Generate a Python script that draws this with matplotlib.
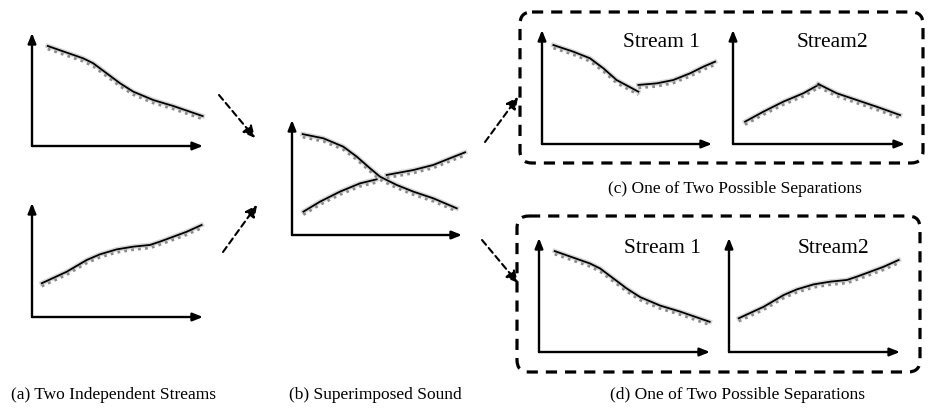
import matplotlib
matplotlib.use("Agg")
import matplotlib.pyplot as plt
from matplotlib import transforms
from matplotlib.patches import FancyBboxPatch

# falling stream (panel a top, panel d stream 1)
fall_x = [0.92, 2.99, 3.58, 4.37, 5.15, 5.92, 7.09, 8.26, 9.98]
fall_y = [8.85, 7.76, 7.32, 6.43, 5.55, 4.81, 4.07, 3.54, 2.65]

# rising stream (panel a bottom, panel d stream 2)
rise_x = [0.57, 2.03, 3.20, 3.98, 4.95, 5.92, 6.90, 7.48, 8.26, 9.05, 9.92]
rise_y = [2.96, 3.97, 5.00, 5.50, 5.93, 6.17, 6.32, 6.61, 7.04, 7.48, 8.07]

# superimposed sound (panel b)
mix_fall_x = [0.63, 1.84, 3.02, 3.81, 4.59, 5.18, 6.16, 7.14, 8.31, 9.69]
mix_fall_y = [8.77, 8.41, 7.68, 6.81, 5.80, 5.07, 4.35, 3.77, 3.19, 2.32]
mix_rise1_x = [0.67, 1.65, 2.82, 4.00, 4.98]
mix_rise1_y = [2.03, 2.90, 3.77, 4.49, 4.84]
mix_rise2_x = [5.57, 7.14, 8.31, 9.29, 10.18]
mix_rise2_y = [5.22, 5.65, 6.09, 6.67, 7.19]

# wrong separation (panel c)
c1_a_x = [0.67, 1.84, 2.82, 3.61, 4.39, 5.67]
c1_a_y = [8.68, 8.10, 7.52, 6.64, 5.61, 4.59]
c1_b_x = [5.67, 6.75, 7.72, 8.71, 9.49, 10.18]
c1_b_y = [5.18, 5.32, 5.61, 6.20, 6.78, 7.22]
c2_a_x = [0.70, 1.76, 2.92, 4.09, 4.96]
c2_a_y = [1.96, 2.83, 3.71, 4.45, 5.18]
c2_b_x = [4.96, 6.03, 7.19, 8.35, 9.71]
c2_b_y = [5.26, 4.45, 3.86, 3.27, 2.54]

captions = ["(a) Two Independent Streams", "(b) Superimposed Sound",
            "(c) One of Two Possible Separations", "(d) One of Two Possible Separations"]
stream_names = ["Stream 1", "Stream2"]

W, H = 930, 412
fig = plt.figure(figsize=(W / 100, H / 100), dpi=100)
serif = "Liberation Serif"


def panel(left, top, right, bottom):
    ax = fig.add_axes([left / W, 1 - bottom / H, (right - left) / W, (bottom - top) / H])
    ax.set_xlim(0, 10)
    ax.set_ylim(0, 10)
    ax.axis("off")
    for end in [(1, 0), (0, 1)]:
        ax.annotate("", xy=end, xytext=(0, 0), xycoords="axes fraction",
                    arrowprops=dict(arrowstyle="-|>,head_length=0.6,head_width=0.24",
                                    color="black", lw=1.7, shrinkA=0, shrinkB=0))
    return ax


def stream(ax, xs, ys):
    shadow = transforms.offset_copy(ax.transData, fig=fig, x=0, y=-3, units="dots")
    ax.plot(xs, ys, color="0.55", lw=2.0, ls=(0, (1, 1.5)), transform=shadow, clip_on=False)
    ax.plot(xs, ys, color="0.6", lw=3.4, alpha=0.4, clip_on=False)
    ax.plot(xs, ys, color="black", lw=1.3, clip_on=False)


# (a)
ax = panel(32, 33, 203, 146)
stream(ax, fall_x, fall_y)
ax = panel(32, 203, 203, 317)
stream(ax, rise_x, rise_y)

# (b)
ax = panel(292, 120, 462, 235)
stream(ax, mix_fall_x, mix_fall_y)
stream(ax, mix_rise1_x, mix_rise1_y)
stream(ax, mix_rise2_x, mix_rise2_y)

# (c)
ax = panel(542, 30, 712, 144)
stream(ax, c1_a_x, c1_a_y)
stream(ax, c1_b_x, c1_b_y)
ax = panel(733, 30, 905, 144)
stream(ax, c2_a_x, c2_a_y)
stream(ax, c2_b_x, c2_b_y)

# (d)
ax = panel(539, 238, 710, 352)
stream(ax, fall_x, fall_y)
ax = panel(729, 238, 900, 352)
stream(ax, rise_x, rise_y)

# overlay in pixel units for boxes, arrows and captions
ov = fig.add_axes([0, 0, 1, 1], zorder=-1)
ov.set_xlim(0, W)
ov.set_ylim(H, 0)
ov.axis("off")

for x0, y0, x1, y1 in [(520, 12, 923, 163), (517, 216, 920, 372)]:
    ov.add_patch(FancyBboxPatch((x0, y0), x1 - x0, y1 - y0,
                                boxstyle="round,pad=0,rounding_size=12",
                                fill=False, ec="black", lw=2.3, ls=(0, (3.5, 2.5))))

for (xa, ya), (xb, yb) in [((219, 95), (255, 138)), ((223, 252), (257, 205)),
                           ((485, 142), (518, 97)), ((482, 240), (518, 283))]:
    ov.annotate("", xy=(xb, yb), xytext=(xa, ya),
                arrowprops=dict(arrowstyle="-|>,head_length=0.7,head_width=0.35",
                                color="black", lw=1.5, ls=(0, (3, 2)),
                                shrinkA=0, shrinkB=0))

ov.text(661, 42, stream_names[0], ha="center", va="center", family=serif, fontsize=15.5)
ov.text(832, 42, stream_names[1], ha="center", va="center", family=serif, fontsize=15.5)
ov.text(662, 248, stream_names[0], ha="center", va="center", family=serif, fontsize=15.5)
ov.text(833, 248, stream_names[1], ha="center", va="center", family=serif, fontsize=15.5)

ov.text(113, 395, captions[0], ha="center", va="center", family=serif, fontsize=12.5)
ov.text(375, 395, captions[1], ha="center", va="center", family=serif, fontsize=12.5)
ov.text(735, 189, captions[2], ha="center", va="center", family=serif, fontsize=12.5)
ov.text(737, 395, captions[3], ha="center", va="center", family=serif, fontsize=12.5)

fig.savefig("out.png", dpi=100)
